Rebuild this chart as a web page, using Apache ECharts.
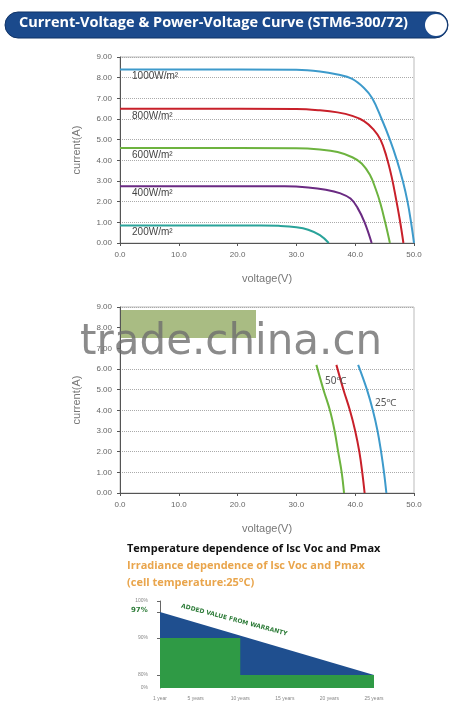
<!DOCTYPE html>
<html>
<head>
<meta charset="utf-8">
<script src="https://cdn.jsdelivr.net/npm/echarts@6/dist/echarts.min.js"></script>
<style>html,body{margin:0;padding:0;background:#fff}#main{width:462px;height:710px}</style>
</head>
<body>
<div id="main"></div>
<script>
// IV curves at various irradiance, [voltage, current]
var irr1000 = [[0,8.4],[30,8.38],[34,8.3],[37,8.15],[39.4,7.95],[41.5,7.5],[42.9,7.0],[44.5,6.0],[45.9,5.0],[47.1,4.0],[48.1,3.0],[48.9,2.0],[49.5,1.0],[50,0]];
var irr800 = [[0,6.5],[30,6.48],[34,6.42],[37,6.32],[39.5,6.15],[41.5,5.9],[43.1,5.5],[44.3,5.0],[45.3,4.2],[46.2,3.2],[46.9,2.2],[47.6,1.1],[48.2,0]];
var irr600 = [[0,4.6],[30,4.58],[34,4.52],[37,4.4],[39.5,4.15],[41.1,3.85],[42.5,3.3],[43.5,2.6],[44.3,1.9],[45.1,1.0],[45.9,0]];
var irr400 = [[0,2.75],[28,2.74],[32,2.69],[35,2.58],[37.5,2.4],[39.2,2.15],[40.4,1.7],[41.6,1.0],[42.8,0]];
var irr200 = [[0,0.85],[24,0.85],[27,0.83],[30,0.76],[32,0.64],[34,0.38],[35.5,0]];
var irrNames = ['1000W/m²', '800W/m²', '600W/m²', '400W/m²', '200W/m²'];
var irrColors = ['#3d9acb', '#c8202a', '#6db33f', '#6a2a82', '#2aa39a'];
// IV curves at temperatures
var temp50 = [[33.4,6.2],[34.6,5.0],[35.7,4.0],[36.5,3.0],[37.1,2.0],[37.7,1.0],[38.1,0]];
var temp40 = [[36.8,6.2],[38.0,5.0],[39.1,4.0],[40.0,3.0],[40.7,2.0],[41.2,1.0],[41.6,0]];
var temp25 = [[40.5,6.2],[42.0,5.0],[43.0,4.0],[43.8,3.0],[44.4,2.0],[44.9,1.0],[45.3,0]];
// warranty
var warrantyYears = [1, 5, 10, 15, 20, 25];
var linearWarranty = [[1,97],[25,80]];
var stepWarranty = [[1,90],[10,90],[10,80],[25,80]];
var warrantyTicks = [76.5, 80, 90, 100];

var myChart = echarts.init(document.getElementById('main'));

function ivXAxis(grid) {
	return {
		gridIndex: grid, type: 'value', min: 0, max: 50, interval: 10,
		name: 'voltage(V)', nameLocation: 'middle', nameGap: 30,
		nameTextStyle: { color: '#777', fontSize: 11 },
		axisLine: { lineStyle: { color: '#555' } },
		axisTick: { show: true, length: 3, lineStyle: { color: '#555' } },
		axisLabel: { color: '#666', fontSize: 8, formatter: function (v) { return v.toFixed(1); } },
		splitLine: { show: false }
	};
}
function ivYAxis(grid) {
	return {
		gridIndex: grid, type: 'value', min: 0, max: 9, interval: 1,
		name: 'current(A)', nameLocation: 'middle', nameGap: 38,
		nameTextStyle: { color: '#777', fontSize: 11 },
		axisLine: { show: true, lineStyle: { color: '#555' } },
		axisTick: { show: true, length: 3, lineStyle: { color: '#555' } },
		axisLabel: { color: '#666', fontSize: 8, formatter: function (v) { return v.toFixed(2); } },
		splitLine: { show: true, lineStyle: { color: '#aaa', type: 'dotted' } }
	};
}
function curve(x, y, data, color) {
	return {
		type: 'line', xAxisIndex: x, yAxisIndex: y, data: data, smooth: 0.4,
		showSymbol: false, lineStyle: { color: color, width: 2 }, z: 3
	};
}

var irrData = [irr1000, irr800, irr600, irr400, irr200];
var series = [];
for (var i = 0; i < irrData.length; i++) {
	var s = curve(0, 0, irrData[i], irrColors[i]);
	s.markPoint = {
		symbol: 'rect', symbolSize: 0,
		data: [{ coord: [1.2, irrData[i][0][1] - 0.35] }],
		label: { show: true, position: 'right', formatter: irrNames[i], color: '#444', fontSize: 10 }
	};
	series.push(s);
}
series.push(curve(1, 1, temp50, '#6db33f'));
series.push(curve(1, 1, temp40, '#c8202a'));
series.push(curve(1, 1, temp25, '#3d9acb'));
series.push({
	type: 'line', xAxisIndex: 2, yAxisIndex: 2, data: linearWarranty, showSymbol: false,
	lineStyle: { width: 0 }, areaStyle: { color: '#1f4f8f', opacity: 1, origin: 'start' }
});
series.push({
	type: 'line', xAxisIndex: 2, yAxisIndex: 2, data: stepWarranty, showSymbol: false,
	lineStyle: { width: 0 }, areaStyle: { color: '#2f9a45', opacity: 1, origin: 'start' }
});

option = {
	animation: false,
	grid: [
		{ left: 120, top: 57, width: 294, height: 186, show: true, borderColor: '#bbb', borderWidth: 1 },
		{ left: 120, top: 307, width: 294, height: 186, show: true, borderColor: '#bbb', borderWidth: 1 },
		{ left: 160, top: 601, width: 214, height: 87 }
	],
	xAxis: [ivXAxis(0), ivXAxis(1), {
		gridIndex: 2, type: 'value', min: 1, max: 25,
		axisLine: { show: false }, axisTick: { show: false }, splitLine: { show: false },
		axisLabel: {
			color: '#888', fontSize: 5,
			customValues: warrantyYears,
			formatter: function (v) { return v === 1 ? '1 year' : v + ' years'; }
		}
	}],
	yAxis: [ivYAxis(0), ivYAxis(1), {
		gridIndex: 2, type: 'value', min: 76.5, max: 100,
		axisLine: { show: true, lineStyle: { color: '#666' } },
		axisTick: { show: true, length: 3, customValues: [80, 90, 97, 100] },
		splitLine: { show: false },
		axisLabel: {
			color: '#888', fontSize: 5, margin: 12, customValues: warrantyTicks,
			formatter: function (v) { return v === 76.5 ? '0%' : v + '%'; }
		}
	}],
	series: series,
	graphic: [
		{ type: 'rect', shape: { x: 5, y: 12, width: 443, height: 26, r: 13 }, style: { fill: '#1b4a8c', stroke: '#0f3266', lineWidth: 1 } },
		{ type: 'text', left: 19, top: 15, style: { text: 'Current-Voltage & Power-Voltage Curve (STM6-300/72)', fill: '#fff', font: 'bold 14.5px "Open Sans"' } },
		{ type: 'circle', shape: { cx: 436, cy: 25, r: 11 }, style: { fill: '#fff' } },
		// watermark over second chart
		{ type: 'rect', z: 10, shape: { x: 121, y: 308, width: 292, height: 56 }, style: { fill: '#fff' } },
		{ type: 'rect', z: 10, shape: { x: 121, y: 310, width: 135, height: 28 }, style: { fill: 'rgba(140,165,90,0.75)' } },
		{ type: 'text', z: 11, left: 80, top: 322, style: { text: 'trade.china.cn', fill: 'rgba(110,110,110,0.8)', font: '42px "DejaVu Sans"' } },
		{ type: 'text', z: 11, left: 325, top: 376, style: { text: '50℃', fill: '#555', font: '10px "Noto Sans"' } },
		{ type: 'text', z: 11, left: 375, top: 398, style: { text: '25℃', fill: '#555', font: '10px "Noto Sans"' } },
		{ type: 'text', left: 127, top: 543, style: { text: 'Temperature dependence of Isc Voc and Pmax', fill: '#111', font: 'bold 11px "Open Sans"' } },
		{ type: 'text', left: 127, top: 560, style: { text: 'Irradiance dependence of Isc Voc and Pmax', fill: '#e9a54c', font: 'bold 11px "Open Sans"' } },
		{ type: 'text', left: 127, top: 577, style: { text: '(cell temperature:25°C)', fill: '#e9a54c', font: 'bold 11px "Open Sans"' } },
		{ type: 'text', x: 182, y: 603, rotation: -0.26, style: { text: 'ADDED VALUE FROM WARRANTY', fill: '#2f7d3a', font: 'bold 6px "DejaVu Sans"' } },
		{ type: 'text', left: 131, top: 607, style: { text: '97%', fill: '#2f7d3a', font: 'bold 7px "DejaVu Sans"' } }
	]
};
myChart.setOption(option);
window.addEventListener("resize", function () {
	myChart.resize();
});
</script>
</body>
</html>
